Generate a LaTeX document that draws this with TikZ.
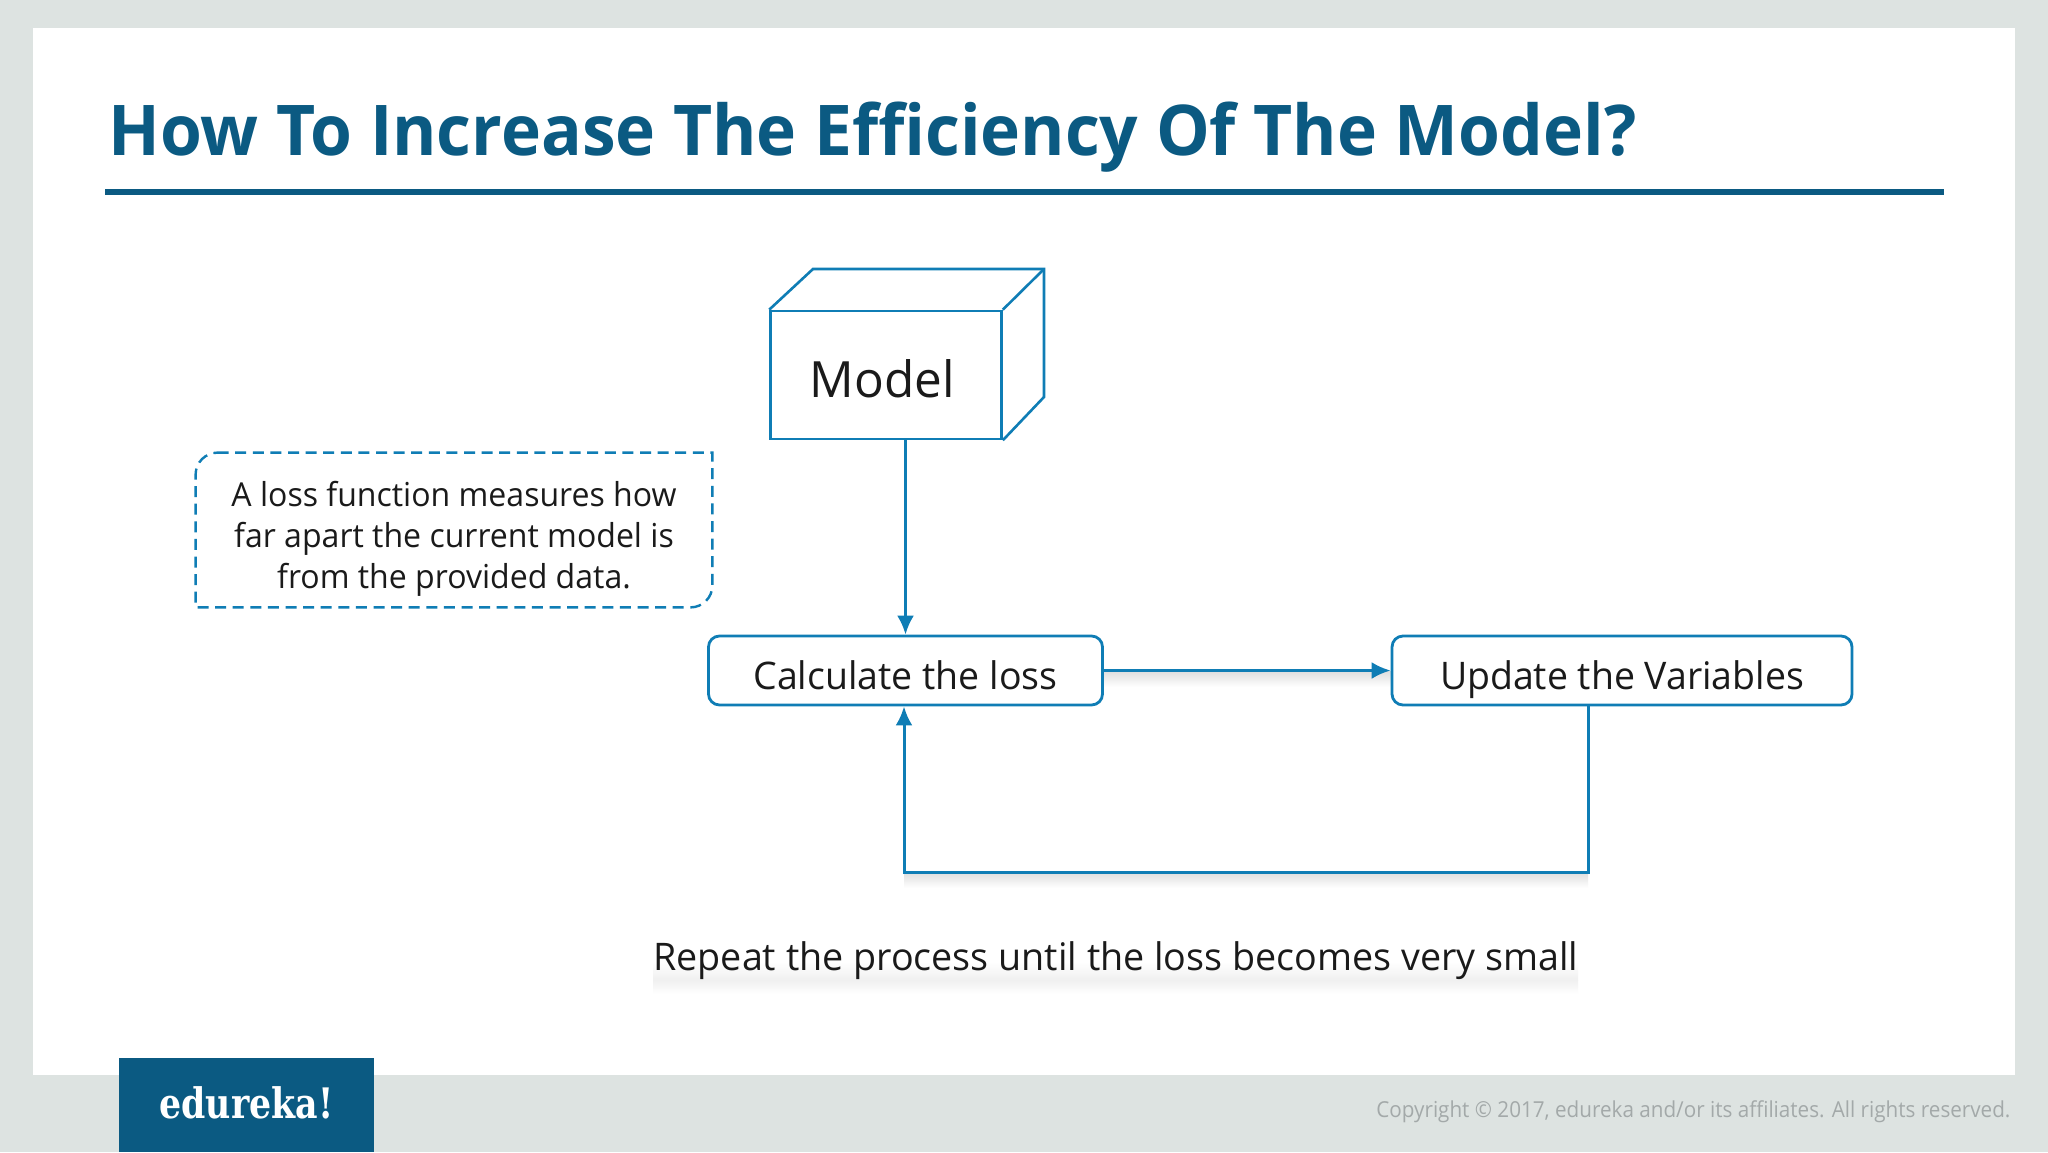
\documentclass[tikz,border=0pt]{standalone}
\usepackage{fontspec}
\usepackage{graphicx}
\setmainfont{Open Sans}
\newfontfamily\slabfont{DejaVu Serif}
\usetikzlibrary{arrows.meta}
\definecolor{pagebg}{HTML}{DDE3E1}
\definecolor{titleblue}{HTML}{0B5A82}
\definecolor{lineblue}{HTML}{0F7DB5}
\definecolor{inkblack}{HTML}{1A1A1A}
\definecolor{copygray}{HTML}{A3A9A9}
\newcommand{\fitw}[2]{\resizebox{#1}{\height}{#2}}
\tikzset{
  x=0.5pt,y=-0.5pt,
  boxline/.style={draw=lineblue,line width=1.4pt,fill=white,rounded corners=5.5pt,inner sep=0pt,minimum height=34.5pt,text height=18.5pt,text depth=0pt,text=inkblack},
  cubeline/.style={draw=lineblue,line width=1.3pt,line join=miter},
  conn/.style={draw=lineblue,line width=1.5pt,-{Latex[length=9.5pt,width=8.5pt]}},
  softshade/.style={top color=black!13,bottom color=white,draw=none},
  plain/.style={inner sep=0pt,anchor=base west},
}
\begin{document}
\begin{tikzpicture}
\useasboundingbox (0,0) rectangle (2048,1152);
\fill[pagebg] (0,0) rectangle (2048,1152);
\fill[white] (33,28) rectangle (2015,1075);
% title
\node[plain,text=titleblue] (title) at (108,155) {\fitw{764pt}{\fontsize{35}{40}\selectfont\bfseries How To Increase The Efficiency Of The Model?}};
\coordinate (ruleL) at (105,192);
\coordinate (ruleR) at (1944,192);
\draw[titleblue,line width=3.4pt] (ruleL) -- (ruleR);
% cube
\node[draw=lineblue,line width=1.3pt,inner sep=0pt,minimum width=115.5pt,minimum height=64pt,text height=22pt,text depth=0pt,text=inkblack] (model) at (886,375) {\fitw{72.5pt}{\fontsize{25}{30}\selectfont Model}\rule{4pt}{0pt}};
\coordinate (backTL) at (813,269);
\coordinate (backTR) at (1044,269);
\coordinate (backBR) at (1044,397);
\draw[cubeline] (model.north west) -- (backTL) -- (backTR) -- (backBR) -- (model.south east);
\draw[cubeline] (model.north east) -- (backTR);
% note
\node[inner sep=0pt,minimum width=258pt,minimum height=77pt,text=inkblack] (note) at (454,530) {\raisebox{-4.5pt}[\height][\depth]{\fitw{222.5pt}{\fontsize{16.5}{20.5}\selectfont\begin{tabular}{@{}c@{}}A loss function measures how\\far apart the current model is\\from the provided data.\end{tabular}}}};
\draw[lineblue,line width=1.2pt,dash pattern=on 5.5pt off 3.3pt]
  ([xshift=11pt]note.north west) -- (note.north east) -- ([yshift=11pt]note.south east)
  arc[start angle=0,end angle=-90,radius=11pt] -- (note.south west) -- ([yshift=-11pt]note.north west)
  arc[start angle=180,end angle=90,radius=11pt];
% connector shades
\coordinate (loopR) at (1588,872);
\coordinate (loopL) at (904,872);
\coordinate (calcE) at (1103,671);
\coordinate (updW) at (1392,671);
\shade[softshade] (calcE) rectangle ([yshift=-8pt]updW);
\shade[softshade] (loopL) rectangle ([yshift=-8pt]loopR);
% process boxes
\node[boxline,minimum width=197pt] (calc) at (905.5,670.5) {\fitw{152pt}{\fontsize{19}{23}\selectfont Calculate the loss}};
\node[boxline,minimum width=230pt] (update) at (1622,670.5) {\fitw{182pt}{\fontsize{19}{23}\selectfont Update the Variables}};
% connectors
\draw[conn] (model.south -| calc.north) -- (calc.north);
\draw[conn] (calc.east) -- (update.west);
\draw[conn] (update.south -| loopR) -- (loopR) -- (loopL) -- (loopL |- calc.south);
% repeat text
\coordinate (repeatA) at (653,962);
\coordinate (repeatB) at (1578,980);
\coordinate (repeatC) at (653,980);
\coordinate (repeatD) at (1578,994);
\shade[top color=white,bottom color=black!6,draw=none] (repeatA) rectangle (repeatB);
\shade[top color=black!6,bottom color=white,draw=none] (repeatC) rectangle (repeatD);
\node[plain,text=inkblack] (repeat) at (653,970) {\fitw{462.5pt}{\fontsize{19}{23}\selectfont Repeat the process until the loss becomes very small}};
% footer
\fill[titleblue] (119,1058) rectangle (374,1152);
\node[plain,text=white] (brand) at (159,1118) {\fitw{87pt}{\fontsize{21}{25}\selectfont\slabfont\bfseries edureka!}};
\node[plain,text=copygray] (copy) at (1376,1117) {\fitw{317pt}{\fontsize{11}{13}\selectfont Copyright © 2017, edureka and/or its affiliates. All rights reserved.}};
\end{tikzpicture}
\end{document}
